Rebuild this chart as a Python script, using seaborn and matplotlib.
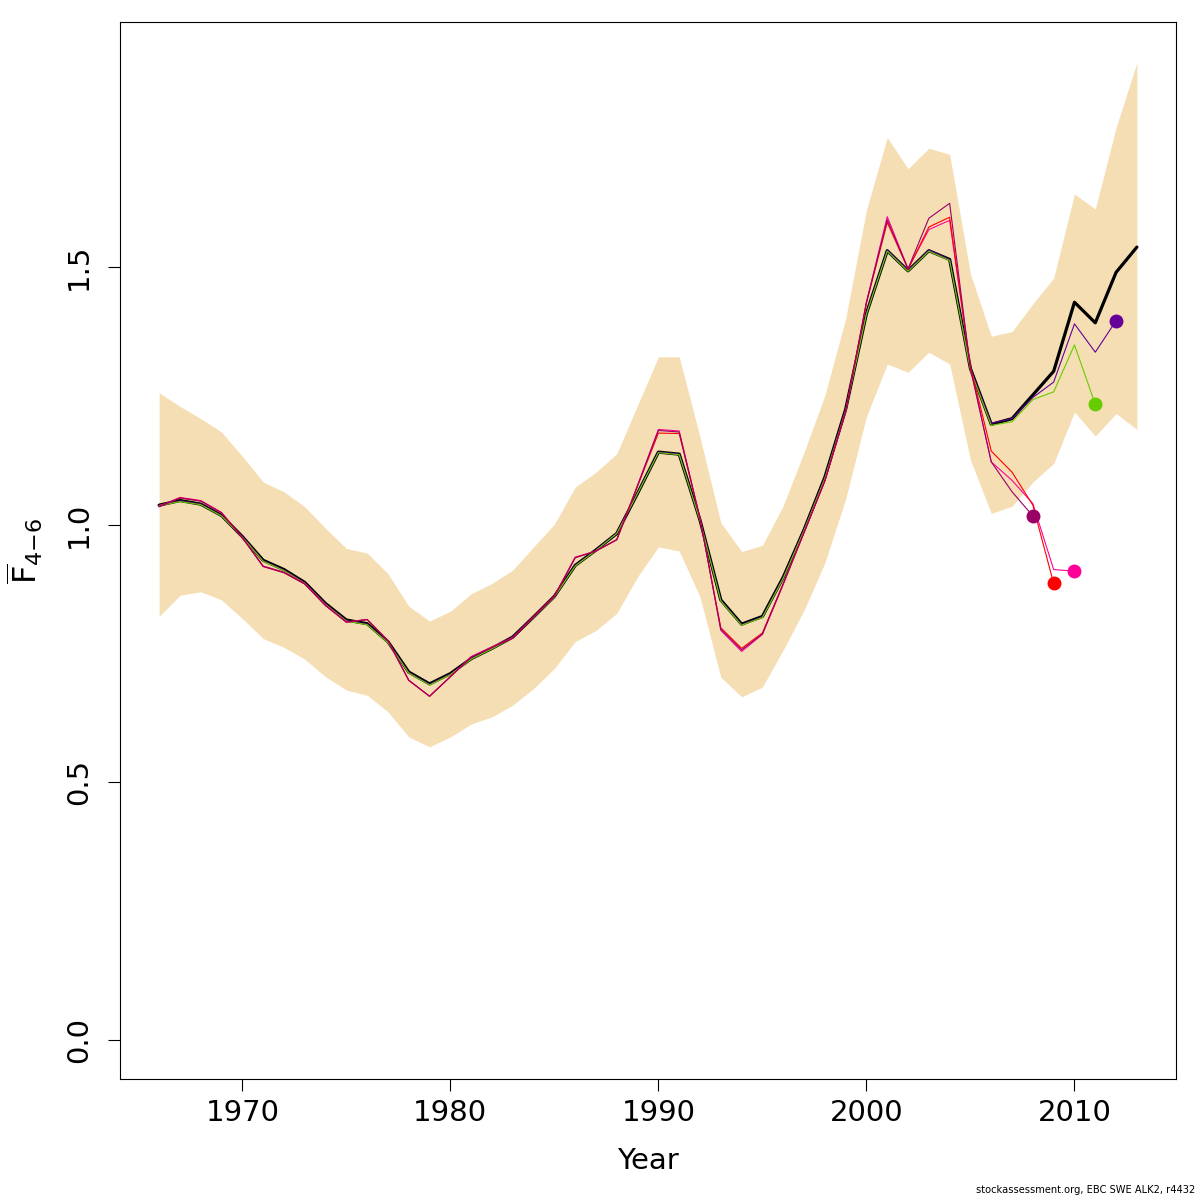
import matplotlib
matplotlib.use("Agg")
import matplotlib.pyplot as plt
import seaborn as sns
import numpy as np
import pandas as pd

years = list(range(1966, 2014))

fbar = [1.038, 1.047, 1.040, 1.018, 0.977, 0.931, 0.913, 0.888, 0.847, 0.815,
        0.808, 0.773, 0.714, 0.691, 0.711, 0.740, 0.760, 0.782, 0.821, 0.861,
        0.921, 0.951, 0.983, 1.061, 1.141, 1.137, 1.009, 0.854, 0.807, 0.822,
        0.898, 0.990, 1.092, 1.224, 1.410, 1.532, 1.493, 1.532, 1.515, 1.303,
        1.195, 1.206, 1.252, 1.298, 1.432, 1.392, 1.490, 1.539]

upper = [1.256, 1.230, 1.206, 1.180, 1.133, 1.083, 1.064, 1.035, 0.993, 0.954,
         0.945, 0.905, 0.842, 0.813, 0.832, 0.866, 0.886, 0.912, 0.957, 1.001,
         1.073, 1.102, 1.138, 1.232, 1.326, 1.326, 1.170, 1.004, 0.948, 0.960,
         1.037, 1.141, 1.251, 1.400, 1.611, 1.752, 1.691, 1.731, 1.719, 1.487,
         1.366, 1.375, 1.429, 1.479, 1.642, 1.613, 1.771, 1.897]

lower = [0.822, 0.863, 0.870, 0.854, 0.818, 0.779, 0.762, 0.739, 0.705, 0.679,
         0.669, 0.637, 0.588, 0.569, 0.588, 0.613, 0.627, 0.650, 0.682, 0.721,
         0.773, 0.795, 0.828, 0.899, 0.957, 0.949, 0.860, 0.704, 0.666, 0.685,
         0.757, 0.834, 0.926, 1.050, 1.210, 1.312, 1.296, 1.335, 1.312, 1.126,
         1.022, 1.036, 1.083, 1.119, 1.219, 1.172, 1.216, 1.185]

# retrospective peels (terminal years 2012 .. 2008)
retro_2012 = [1.038, 1.046, 1.040, 1.018, 0.977, 0.930, 0.912, 0.887, 0.846, 0.814,
              0.807, 0.772, 0.713, 0.690, 0.710, 0.740, 0.760, 0.782, 0.821, 0.861,
              0.921, 0.951, 0.984, 1.062, 1.141, 1.137, 1.009, 0.853, 0.806, 0.821,
              0.897, 0.990, 1.091, 1.223, 1.411, 1.533, 1.494, 1.533, 1.515, 1.303,
              1.197, 1.206, 1.247, 1.277, 1.390, 1.335, 1.396]
retro_2011 = [1.037, 1.045, 1.039, 1.017, 0.976, 0.929, 0.911, 0.886, 0.845, 0.813,
              0.806, 0.771, 0.712, 0.689, 0.709, 0.739, 0.759, 0.781, 0.820, 0.860,
              0.920, 0.950, 0.983, 1.061, 1.140, 1.136, 1.008, 0.852, 0.805, 0.820,
              0.896, 0.989, 1.090, 1.222, 1.409, 1.531, 1.492, 1.531, 1.513, 1.300,
              1.193, 1.200, 1.243, 1.258, 1.349, 1.234]
retro_2010 = [1.036, 1.053, 1.047, 1.024, 0.975, 0.920, 0.908, 0.886, 0.844, 0.811,
              0.816, 0.775, 0.698, 0.667, 0.705, 0.744, 0.763, 0.781, 0.822, 0.862,
              0.937, 0.949, 0.971, 1.077, 1.185, 1.182, 1.013, 0.795, 0.754, 0.787,
              0.884, 0.985, 1.085, 1.220, 1.432, 1.598, 1.497, 1.573, 1.591, 1.305,
              1.122, 1.086, 1.041, 0.913, 0.910]
retro_2009 = [1.035, 1.052, 1.046, 1.023, 0.975, 0.919, 0.907, 0.885, 0.843, 0.811,
              0.816, 0.775, 0.698, 0.667, 0.705, 0.743, 0.762, 0.780, 0.821, 0.861,
              0.936, 0.949, 0.971, 1.075, 1.178, 1.177, 1.012, 0.800, 0.760, 0.790,
              0.886, 0.985, 1.085, 1.220, 1.430, 1.587, 1.496, 1.578, 1.597, 1.307,
              1.143, 1.102, 1.038, 0.886]
retro_2008 = [1.035, 1.052, 1.046, 1.023, 0.975, 0.919, 0.907, 0.885, 0.843, 0.811,
              0.816, 0.775, 0.698, 0.667, 0.705, 0.743, 0.762, 0.780, 0.821, 0.861,
              0.936, 0.949, 0.971, 1.076, 1.183, 1.180, 1.012, 0.797, 0.757, 0.788,
              0.885, 0.985, 1.085, 1.220, 1.432, 1.592, 1.497, 1.595, 1.624, 1.303,
              1.122, 1.064, 1.017]

retro_series = [retro_2012, retro_2011, retro_2010, retro_2009, retro_2008]
retro_colors = ["#660099", "#66CC00", "#FF0099", "#FF0000", "#990066"]

x_ticks = [1970, 1980, 1990, 2000, 2010]
y_ticks = [0.0, 0.5, 1.0, 1.5]
y_tick_labels = ["0.0", "0.5", "1.0", "1.5"]
footer = "stockassessment.org, EBC SWE ALK2, r4432"

sns.set_style("ticks")
plt.rcParams['font.family'] = ['DejaVu Sans']
plt.rcParams['text.color'] = 'black'
plt.rcParams['axes.labelcolor'] = 'black'

fig = plt.figure(figsize=(12, 12), dpi=100)
ax = fig.add_axes([0.1, 0.10083, 0.88, 0.88084])

ax.fill_between(years, lower, upper, color="#F5DEB3", linewidth=0, zorder=1)

df_main = pd.DataFrame({"Year": years, "F": fbar})
sns.lineplot(data=df_main, x="Year", y="F", color="black", linewidth=2.3, ax=ax, zorder=3)

for ser, col in zip(retro_series, retro_colors):
    yrs = years[:len(ser)]
    d = pd.DataFrame({"Year": yrs, "F": ser})
    sns.lineplot(data=d, x="Year", y="F", color=col, linewidth=0.8, ax=ax, zorder=4)
    ax.plot([yrs[-1]], [ser[-1]], marker="o", markersize=9, color=col,
            linestyle="none", zorder=5)

ax.set_xlim(1964.12, 2014.88)
ax.set_ylim(-0.076, 1.976)
ax.set_xticks(x_ticks)
ax.set_xticklabels([str(t) for t in x_ticks])
ax.set_yticks(y_ticks)
ax.set_yticklabels(y_tick_labels, va="center")

for sp in ax.spines.values():
    sp.set_visible(True)
    sp.set_color("black")
    sp.set_linewidth(0.8)

ax.tick_params(axis="both", direction="out", length=8.5, width=0.8,
               labelsize=21, color="black", labelcolor="black")
ax.tick_params(axis="x", pad=6)
ax.tick_params(axis="y", pad=11)
for lab in ax.get_yticklabels():
    lab.set_rotation(90)
    lab.set_va("center")

ax.set_xlabel("Year", fontsize=21, labelpad=14, color="black")
ax.set_ylabel(r"$\overline{\mathrm{F}}_{4{-}6}$", fontsize=23, labelpad=14, color="black")
ax.grid(False)

fig.text(0.996, 0.004, footer, ha="right", va="bottom", fontsize=7.1, color="black")

fig.savefig("out.png", dpi=100)
